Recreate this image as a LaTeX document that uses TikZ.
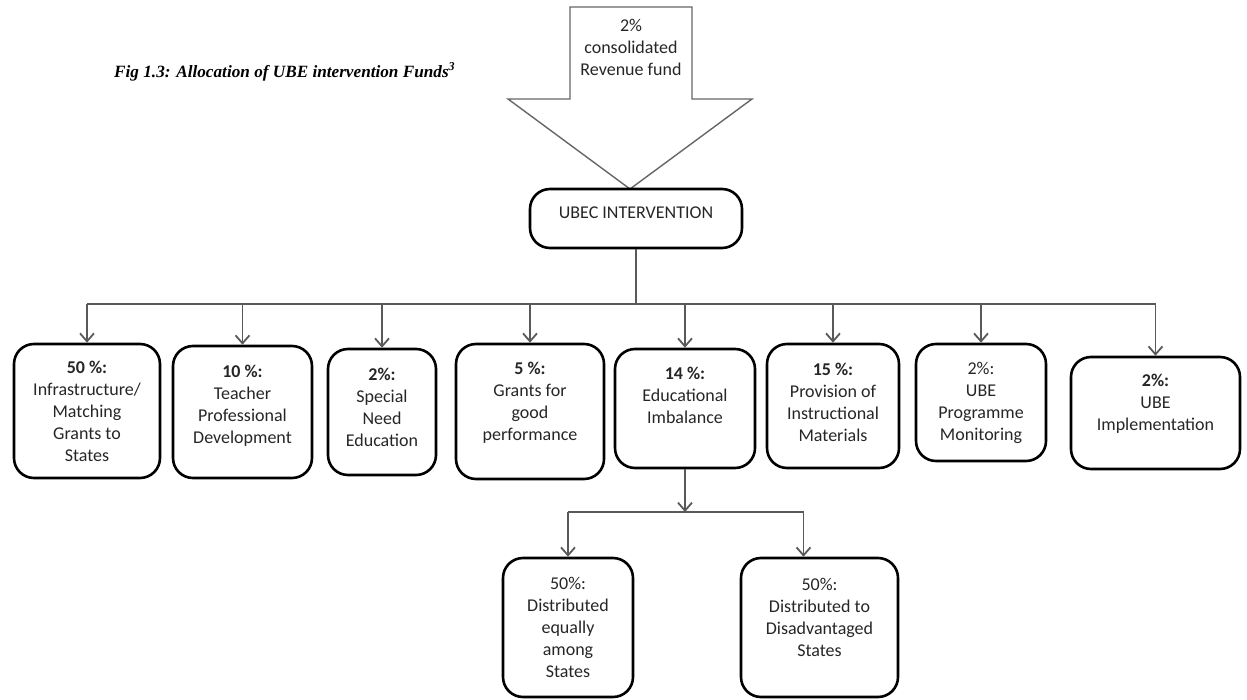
\documentclass[tikz,border=0pt]{standalone}
\usepackage{fontspec}
\setmainfont{Carlito}
\newfontfamily\captionfont{Liberation Serif}
\usetikzlibrary{arrows.meta, calc}
\tikzstyle{fund} = [rectangle, rounded corners=10pt, line width=1.3pt, draw=black, align=center, text=black!85, inner sep=2pt, font=\fontsize{9}{11}\selectfont]
\tikzstyle{lift} = [text depth=#1]
\tikzstyle{arrow} = [line width=0.9pt, draw=black!65, -{Straight Barb[length=4pt, width=7pt]}]
\tikzstyle{link} = [line width=0.9pt, draw=black!65]
\tikzstyle{bigarrow} = [line width=0.7pt, draw=black!60]

\begin{document}
\begin{tikzpicture}[x=0.5pt, y=-0.5pt]
	\useasboundingbox (0,0) rectangle (1247,700);
	\node (Caption) [font=\captionfont\bfseries\itshape\fontsize{8.6}{10}\selectfont] at (285,72) {Fig 1.3: Allocation of UBE intervention Funds\textsuperscript{3}};
	% source of the funds
	\draw [bigarrow] (570,7) -- (692,7) -- (692,99) -- (752,99) -- (630,189) -- (508,99) -- (570,99) -- cycle;
	\node (Source) [align=center, text=black!85, font=\fontsize{9}{11}\selectfont] at (631,47) {2\%\\consolidated\\Revenue fund};
	\node (Intervention) [fund, lift=6pt, minimum width=106pt, minimum height=29.5pt] at (636,218.5) {UBEC INTERVENTION};
	% allocations
	\node (Infra) [fund, minimum width=73pt, minimum height=67pt] at (87,411) {\textbf{50 \%:}\\Infrastructure/\\Matching\\Grants to\\States};
	\node (Teacher) [fund, lift=8pt, minimum width=69.5pt, minimum height=66pt] at (242.5,412) {\textbf{10 \%:}\\Teacher\\Professional\\Development};
	\node (Special) [fund, lift=5pt, minimum width=54pt, minimum height=63pt] at (382,412) {\textbf{2\%:}\\Special\\Need\\Education};
	\node (Grants) [fund, lift=10pt, minimum width=74pt, minimum height=67.5pt] at (530,411.5) {\textbf{5 \%:}\\Grants for\\good\\performance};
	\node (Imbalance) [fund, lift=13pt, minimum width=70pt, minimum height=59.5pt] at (685,408.5) {\textbf{14 \%:}\\Educational\\Imbalance};
	\node (Materials) [fund, lift=4pt, minimum width=66pt, minimum height=62pt] at (833,406) {\textbf{15 \%:}\\Provision of\\Instructional\\Materials};
	\node (Monitoring) [fund, minimum width=65pt, minimum height=58.5pt] at (981,402.5) {2\%:\\UBE\\Programme\\Monitoring};
	\node (Implementation) [fund, lift=11pt, minimum width=84.5pt, minimum height=56pt] at (1155.5,413) {\textbf{2\%:}\\UBE\\Implementation};
	% educational imbalance split
	\node (Equally) [fund, minimum width=65pt, minimum height=69.5pt] at (568,627.5) {50\%:\\Distributed\\equally\\among\\States};
	\node (Disadvantaged) [fund, lift=10pt, minimum width=78.5pt, minimum height=69.5pt] at (819.5,627.5) {50\%:\\Distributed to\\Disadvantaged\\States};

	\coordinate (Bus) at (0,304);
	\coordinate (SubBus) at (0,512);
	\draw [link] (Intervention.south) -- (Intervention.south |- Bus);
	\draw [link] (Infra.north |- Bus) -- (Implementation.north |- Bus);
	\foreach \share in {Infra, Teacher, Special, Grants, Imbalance, Materials, Monitoring, Implementation}
		\draw [arrow] (\share.north |- Bus) -- (\share.north);
	\draw [arrow] (Imbalance.south) -- (Imbalance.south |- SubBus);
	\draw [link] (Equally.north |- SubBus) -- ([xshift=-8pt]Disadvantaged.north |- SubBus);
	\draw [arrow] (Equally.north |- SubBus) -- (Equally.north);
	\draw [arrow] ([xshift=-8pt]Disadvantaged.north |- SubBus) -- ([xshift=-8pt]Disadvantaged.north);
\end{tikzpicture}
\end{document}
